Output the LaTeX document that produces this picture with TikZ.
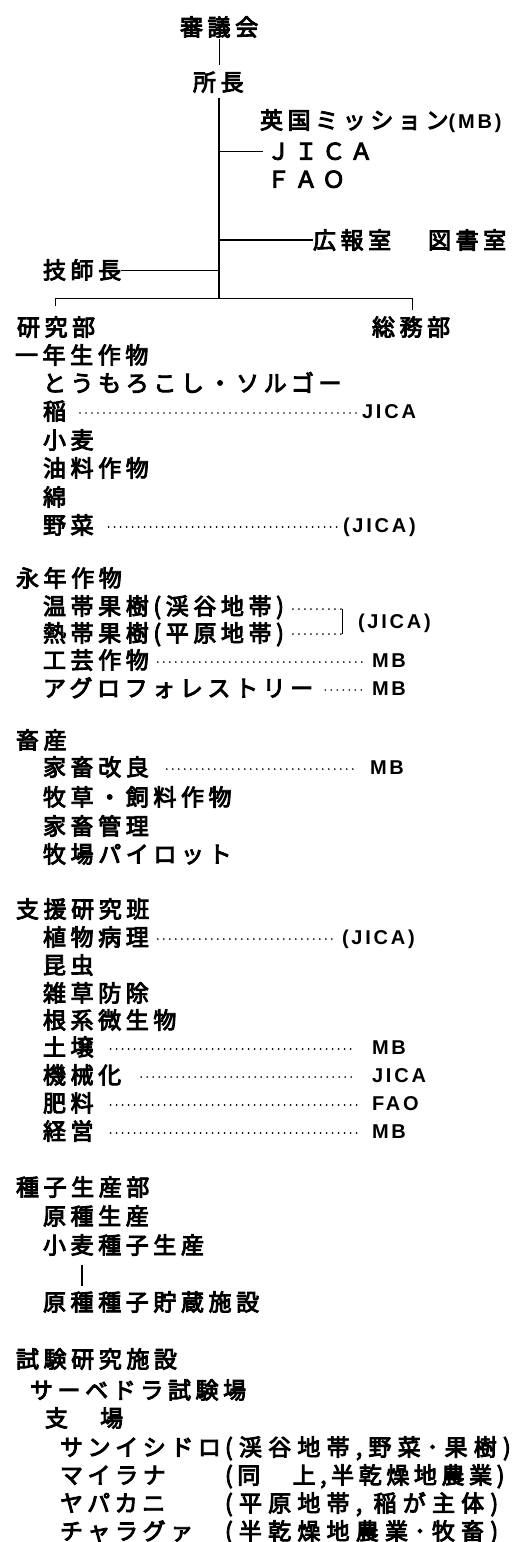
\documentclass[tikz,border=0pt]{standalone}
\usepackage{fontspec}
\newfontfamily\jpf{Noto Sans CJK JP}[LetterSpace=20,FakeBold=4]
\newfontfamily\jpwide{Noto Sans CJK JP}[LetterSpace=27,FakeBold=4]
\newfontfamily\ltf{Liberation Sans}[LetterSpace=14]
\newcommand\jpsize{\fontsize{23pt}{23pt}\selectfont}
\newcommand\ltsize{\fontsize{20pt}{20pt}\selectfont}
\tikzset{
  txt/.style={anchor=west, inner sep=0pt, outer sep=0pt, font=\jpf\jpsize, text height=20.2pt, text depth=2.8pt},
  widetxt/.style={txt, font=\jpwide\jpsize},
  lab/.style={anchor=west, inner sep=0pt, outer sep=0pt, font=\ltf\bfseries\ltsize, text height=16.9pt, text depth=2.5pt},
  leader/.style n args={2}{line width=1.9pt, dash pattern=on 0pt off 6pt, line cap=round, shorten <=#1, shorten >=#2},
  thinline/.style={line width=1pt},
  trunkline/.style={line width=2pt},
}
\begin{document}
\begin{tikzpicture}[x=1pt,y=-1pt]
\useasboundingbox (0,0) rectangle (520,1542);
\fill[white] (0,0) rectangle (520,1542);

% top
\node[txt] (shingi) at (180,27) {審議会};
\node[txt] (shocho) at (193,82) {所長};
\node[txt] (mb) at (260,120) {英国ミッション{\ltf\bfseries\ltsize (MB)}};
\node[txt] (jica) at (267,151) {ＪＩＣＡ};
\node[txt] (fao) at (267,179) {ＦＡＯ};
\node[txt] (pr) at (313,240) {広報室};
\node[txt] (lib) at (428,240) {図書室};
\node[txt] (gishi) at (43,270) {技師長};
\node[txt] (kenkyu) at (17,327) {研究部};
\node[txt] (somu) at (372,327) {総務部};

\coordinate (trunk) at (219,0);
\coordinate (barL) at (55,298);
\coordinate (barR) at (412,298);
\coordinate (barLd) at (55,306);
\coordinate (barRd) at (412,310);
\draw[thinline, shorten >=6pt] (trunk |- shingi.south) -- (trunk |- shocho.north);
\draw[trunkline, shorten <=4pt] (trunk |- shocho.south) -- (trunk |- barL);
\draw[thinline] (barLd) -- (barL) -- (barR) -- (barRd);
\draw[thinline, shorten >=4pt] (trunk |- jica) -- (jica.west);
\draw[line width=1.3pt] (trunk |- pr) -- (pr.west);
\draw[thinline] (gishi.east) -- (trunk |- gishi);

% 研究部
\node[txt] (ichinen) at (15,355) {一年生作物};
\node[txt] (tomo) at (43,383) {とうもろこし・ソルゴー};
\node[txt] (ine) at (43,411) {稲};
\node[lab] (ineL) at (362,411) {JICA};
\node[txt] (komugi) at (43,440) {小麦};
\node[txt] (yuryo) at (43,468) {油料作物};
\node[txt] (wata) at (43,497) {綿};
\node[txt] (yasai) at (43,525) {野菜};
\node[lab] (yasaiL) at (343,525) {(JICA)};

\node[txt] (einen) at (16,578) {永年作物};
\node[txt] (ontai) at (43,606) {温帯果樹(渓谷地帯)};
\node[txt] (nettai) at (43,633) {熱帯果樹(平原地帯)};
\node[lab] (kajuL) at (358,621) {(JICA)};
\node[txt] (kogei) at (43,660) {工芸作物};
\node[lab] (kogeiL) at (372,660) {MB};
\node[txt] (agro) at (43,688) {アグロフォレストリー};
\node[lab] (agroL) at (372,688) {MB};

\node[txt] (chikusan) at (16,740) {畜産};
\node[txt] (kachiku) at (43,767) {家畜改良};
\node[lab] (kachikuL) at (370,767) {MB};
\node[txt] (bokuso) at (43,797) {牧草・飼料作物};
\node[txt] (kanri) at (43,826) {家畜管理};
\node[txt] (pilot) at (43,854) {牧場パイロット};

\node[txt] (shien) at (16,909) {支援研究班};
\node[txt] (byori) at (43,937) {植物病理};
\node[lab] (byoriL) at (342,937) {(JICA)};
\node[txt] (konchu) at (43,965) {昆虫};
\node[txt] (zasso) at (43,993) {雑草防除};
\node[txt] (konkei) at (43,1020) {根系微生物};
\node[txt] (dojo) at (43,1047) {土壌};
\node[lab] (dojoL) at (372,1047) {MB};
\node[txt] (kikai) at (43,1075) {機械化};
\node[lab] (kikaiL) at (372,1075) {JICA};
\node[txt] (hiryo) at (43,1103) {肥料};
\node[lab] (hiryoL) at (372,1103) {FAO};
\node[txt] (keiei) at (43,1131) {経営};
\node[lab] (keieiL) at (372,1131) {MB};

% leaders
\draw[leader={14pt}{4pt}] ([yshift=-2pt]ine.east) -- ([yshift=-2pt]ineL.west);
\draw[leader={15pt}{3pt}] ([yshift=-2pt]yasai.east) -- ([yshift=-2pt]yasaiL.west);
\draw[leader={9pt}{7pt}] ([yshift=-2pt]kogei.east) -- ([yshift=-2pt]kogeiL.west);
\draw[leader={12pt}{7pt}] ([yshift=-2pt]agro.east) -- ([yshift=-2pt]agroL.west);
\draw[leader={18pt}{17pt}] ([yshift=-2pt]kachiku.east) -- ([yshift=-2pt]kachikuL.west);
\draw[leader={9pt}{9pt}] ([yshift=-2pt]byori.east) -- ([yshift=-2pt]byoriL.west);
\draw[leader={17pt}{19pt}] ([yshift=-2pt]dojo.east) -- ([yshift=-2pt]dojoL.west);
\draw[leader={20pt}{15pt}] ([yshift=-2pt]kikai.east) -- ([yshift=-2pt]kikaiL.west);
\draw[leader={17pt}{14pt}] ([yshift=-2pt]hiryo.east) -- ([yshift=-2pt]hiryoL.west);
\draw[leader={17pt}{14pt}] ([yshift=-2pt]keiei.east) -- ([yshift=-2pt]keieiL.west);

% bracket for fruit trees
\coordinate (brT) at (342,609);
\coordinate (brB) at (342,634);
\draw[leader={9pt}{0pt}] (ontai.east |- brT) -- (brT);
\draw[leader={9pt}{0pt}] (nettai.east |- brB) -- (brB);
\draw[thinline] (brT) -- (brB);

% seeds
\node[txt] (shushi) at (16,1187) {種子生産部};
\node[txt] (genshu) at (43,1216) {原種生産};
\node[txt] (komugiS) at (43,1245) {小麦種子生産};
\node[txt] (chozo) at (43,1302) {原種種子貯蔵施設};
\coordinate (tk) at (82,0);
\draw[line width=1.5pt, shorten <=8pt, shorten >=5pt] (tk |- komugiS.south) -- (tk |- chozo.north);

% stations
\node[txt] (shiken) at (16,1359) {試験研究施設};
\node[txt] (saav) at (30,1390) {サーベドラ試験場};
\node[txt] (shijo) at (45,1418) {支　場};
\node[txt] (sanis) at (60,1447) {サンイシドロ};
\node[widetxt] (sanisP) at (225,1447) {(渓谷地帯,野菜･果樹)};
\node[txt] (mairana) at (60,1475) {マイラナ};
\node[txt] (mairanaP) at (225,1475) {(同　上,半乾燥地農業)};
\node[txt] (yapa) at (60,1503) {ヤパカニ};
\node[widetxt] (yapaP) at (225,1503) {(平原地帯, 稲が主体)};
\node[txt] (chara) at (60,1531) {チャラグァ};
\node[widetxt] (charaP) at (225,1531) {(半乾燥地農業･牧畜)};
\end{tikzpicture}
\end{document}
